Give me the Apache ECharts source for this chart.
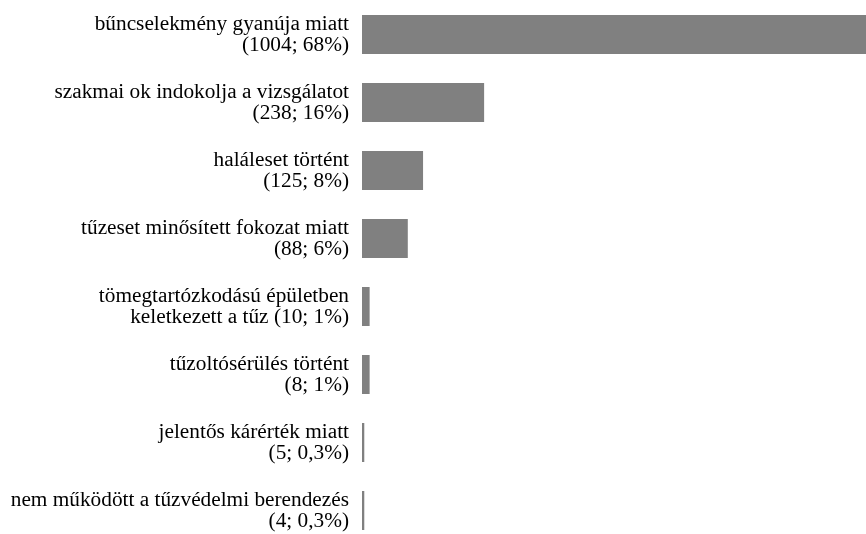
<!DOCTYPE html>
<html>
<head>
<meta charset="utf-8">
<script src="https://cdn.jsdelivr.net/npm/echarts@6/dist/echarts.min.js"></script>
<style>
  html, body { margin: 0; padding: 0; background: #fff; }
  #chart { width: 866px; height: 534px; }
</style>
</head>
<body>
<div id="chart"></div>
<script>
// kategóriák (a "\n" a sortörés helye a címkében)
var categories = [
  'bűncselekmény gyanúja miatt',
  'szakmai ok indokolja a vizsgálatot',
  'haláleset történt',
  'tűzeset minősített fokozat miatt',
  'tömegtartózkodású épületben\nkeletkezett a tűz',
  'tűzoltósérülés történt',
  'jelentős kárérték miatt',
  'nem működött a tűzvédelmi berendezés'
]
var counts = [1004, 238, 125, 88, 10, 8, 5, 4]
// a sávok hossza a kerekített százalékokból
var percents = [68, 16, 8, 6, 1, 1, 0.3, 0.3]

function labelFor(name, i) {
  var pct = String(percents[i]).replace('.', ',')
  var sep = name.indexOf('\n') !== -1 ? ' ' : '\n'
  return name + sep + '(' + counts[i] + '; ' + pct + '%)'
}

var chart = echarts.init(document.getElementById('chart'))
chart.setOption({
  animation: false,
  grid: {
    left: 362, top: 0.5, width: 519, height: 544,
    containLabel: false,
    outerBoundsMode: 'none'
  },
  xAxis: {
    type: 'value',
    min: 0,
    max: 68,
    show: false
  },
  yAxis: {
    type: 'category',
    inverse: true,
    data: categories,
    axisLine: { show: false },
    axisTick: { show: false },
    splitLine: { show: false },
    axisLabel: {
      margin: 13,
      color: '#000',
      fontFamily: '"Liberation Serif", "Times New Roman", serif',
      fontSize: 21.3,
      lineHeight: 21,
      align: 'right',
      formatter: function (value, i) {
        return labelFor(value, i)
      }
    }
  },
  series: [{
    type: 'bar',
    data: percents,
    barWidth: 39,
    clip: false,
    itemStyle: { color: '#808080' },
    emphasis: { disabled: true }
  }]
})
</script>
</body>
</html>
